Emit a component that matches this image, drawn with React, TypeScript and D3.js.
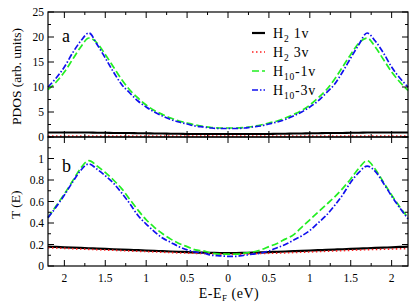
import React from "react";
import * as d3 from "d3";

// energies (eV relative to Fermi level)
const energies = [
  -2.2, -2.1, -2.0, -1.9, -1.8, -1.7, -1.6, -1.5, -1.4, -1.3, -1.2, -1.1, -1.0, -0.9, -0.8, -0.7, -0.6, -0.5, -0.4, -0.3, -0.2, -0.1,
  0, 0.1, 0.2, 0.3, 0.4, 0.5, 0.6, 0.7, 0.8, 0.9, 1.0, 1.1, 1.2, 1.3, 1.4, 1.5, 1.6, 1.7, 1.8, 1.9, 2.0, 2.1, 2.2,
];

// panel a: PDOS
const pdosH2_1v = [
  0.9, 0.9, 0.9, 0.9, 0.9, 0.9, 0.85, 0.85, 0.8, 0.8, 0.8, 0.75, 0.75, 0.7, 0.7, 0.65, 0.65, 0.6, 0.6, 0.6, 0.6, 0.6,
  0.6, 0.6, 0.6, 0.6, 0.6, 0.6, 0.65, 0.65, 0.7, 0.7, 0.75, 0.75, 0.8, 0.8, 0.8, 0.85, 0.85, 0.9, 0.9, 0.9, 0.9, 0.9, 0.9,
];
const pdosH2_3v = [
  0.2, 0.2, 0.2, 0.2, 0.2, 0.2, 0.2, 0.2, 0.2, 0.2, 0.2, 0.2, 0.2, 0.2, 0.2, 0.2, 0.2, 0.2, 0.2, 0.2, 0.2, 0.2,
  0.2, 0.2, 0.2, 0.2, 0.2, 0.2, 0.2, 0.2, 0.2, 0.2, 0.2, 0.2, 0.2, 0.2, 0.2, 0.2, 0.2, 0.2, 0.2, 0.2, 0.2, 0.2, 0.2,
];
const pdosH10_1v = [
  9.5, 11.0, 13.0, 15.5, 18.0, 19.8, 18.8, 16.5, 14.0, 11.5, 9.4, 7.8, 6.4, 5.3, 4.5, 3.8, 3.2, 2.8, 2.4, 2.1, 1.9, 1.8,
  1.8, 1.8, 1.9, 2.1, 2.4, 2.8, 3.2, 3.8, 4.5, 5.3, 6.4, 7.8, 9.4, 11.5, 14.0, 16.5, 18.8, 19.8, 18.0, 15.5, 13.0, 11.0, 9.3,
];
const pdosH10_3v = [
  10.0, 11.8, 14.0, 16.8, 19.2, 20.8, 18.5, 15.8, 13.0, 10.5, 8.8, 7.2, 6.0, 5.0, 4.2, 3.5, 3.0, 2.6, 2.2, 2.0, 1.8, 1.7,
  1.7, 1.7, 1.8, 2.0, 2.2, 2.6, 3.0, 3.5, 4.2, 5.0, 6.0, 7.2, 8.8, 10.5, 13.0, 15.8, 18.5, 20.8, 19.2, 16.8, 14.0, 11.8, 10.0,
];

// panel b: transmission
const transH2_1v = [
  0.18, 0.177, 0.174, 0.171, 0.168, 0.165, 0.162, 0.159, 0.156, 0.153, 0.15, 0.147, 0.144, 0.141, 0.138, 0.135, 0.132, 0.129, 0.126, 0.124, 0.122, 0.12,
  0.12, 0.12, 0.122, 0.124, 0.126, 0.129, 0.132, 0.135, 0.138, 0.141, 0.144, 0.147, 0.15, 0.153, 0.156, 0.159, 0.162, 0.165, 0.168, 0.171, 0.174, 0.177, 0.18,
];
const transH2_3v = [
  0.17, 0.167, 0.164, 0.161, 0.158, 0.155, 0.152, 0.149, 0.146, 0.143, 0.14, 0.137, 0.134, 0.131, 0.128, 0.125, 0.122, 0.12, 0.118, 0.116, 0.114, 0.112,
  0.11, 0.11, 0.112, 0.114, 0.116, 0.118, 0.12, 0.122, 0.125, 0.128, 0.131, 0.134, 0.137, 0.14, 0.143, 0.146, 0.149, 0.152, 0.154, 0.156, 0.158, 0.16, 0.162,
];
const transH10_1v = [
  0.45, 0.56, 0.67, 0.79, 0.91, 0.98, 0.93, 0.87, 0.8, 0.72, 0.62, 0.52, 0.43, 0.36, 0.3, 0.25, 0.21, 0.18, 0.15, 0.14, 0.12, 0.11,
  0.11, 0.11, 0.12, 0.13, 0.15, 0.18, 0.21, 0.25, 0.29, 0.36, 0.43, 0.5, 0.57, 0.64, 0.72, 0.81, 0.91, 0.98, 0.9, 0.78, 0.66, 0.55, 0.45,
];
const transH10_3v = [
  0.45, 0.55, 0.66, 0.78, 0.89, 0.95, 0.9, 0.84, 0.77, 0.68, 0.58, 0.47, 0.39, 0.32, 0.26, 0.22, 0.18, 0.15, 0.13, 0.12, 0.1, 0.095,
  0.09, 0.09, 0.1, 0.11, 0.12, 0.14, 0.17, 0.2, 0.24, 0.28, 0.33, 0.4, 0.47, 0.56, 0.66, 0.78, 0.87, 0.93, 0.88, 0.77, 0.65, 0.54, 0.44,
];

const legendLabels = [
  { base: "H", sub: "2", rest: " 1v" },
  { base: "H", sub: "2", rest: " 3v" },
  { base: "H", sub: "10", rest: "-1v" },
  { base: "H", sub: "10", rest: "-3v" },
];

const styles = [
  { color: "#000000", width: 2.2, dash: "" },
  { color: "#ff2020", width: 1.6, dash: "1.5,2.5" },
  { color: "#22ee22", width: 1.7, dash: "7,3" },
  { color: "#1010ee", width: 1.7, dash: "6,2,1.5,2" },
];

const W = 415;
const H = 305;
const left = 48;
const right = 408;
const topA = 12;
const botA = 137;
const botB = 266;
const font = "'Liberation Serif', 'DejaVu Serif', serif";

const x = d3.scaleLinear().domain([-2.2, 2.2]).range([left, right]);
const yA = d3.scaleLinear().domain([0, 25]).range([botA, topA]);
const yB = d3.scaleLinear().domain([0, 1.2]).range([botB, botA]);

function Ticks({ y, top, bottom, major, minor, fmt }: any) {
  const xMaj = d3.range(-2, 2.01, 0.5);
  const xMin = d3.range(-2.25, 2.26, 0.25).filter((v) => v > -2.2 && v < 2.2);
  return (
    <g stroke="#000" strokeWidth={1}>
      {xMin.map((v: number) => {
        const len = xMaj.some((m) => Math.abs(m - v) < 1e-6) ? 6 : 3;
        return (
          <g key={"x" + v}>
            <line x1={x(v)} x2={x(v)} y1={top} y2={top + len} />
            <line x1={x(v)} x2={x(v)} y1={bottom} y2={bottom - len} />
          </g>
        );
      })}
      {minor.map((v: number) => {
        const isMaj = major.some((m: number) => Math.abs(m - v) < 1e-6);
        const len = isMaj ? 6 : 3;
        return (
          <g key={"y" + v}>
            <line x1={left} x2={left + len} y1={y(v)} y2={y(v)} />
            <line x1={right} x2={right - len} y1={y(v)} y2={y(v)} />
          </g>
        );
      })}
      {major.map((v: number) => (
        <text
          key={"l" + v}
          x={left - 4}
          y={y(v) + 4}
          textAnchor="end"
          stroke="none"
          fill="#000"
          fontSize={11.5}
          fontFamily={font}
        >
          {fmt(v)}
        </text>
      ))}
      <rect x={left} y={top} width={right - left} height={bottom - top} fill="none" strokeWidth={1.2} />
    </g>
  );
}

function Panel({ y, series }: any) {
  const line = d3
    .line<number>()
    .x((_, i) => x(energies[i]))
    .y((d) => y(d))
    .curve(d3.curveMonotoneX);
  return (
    <g>
      {series.map((s: number[], i: number) => (
        <path
          key={i}
          d={line(s) || ""}
          fill="none"
          stroke={styles[i].color}
          strokeWidth={styles[i].width}
          strokeDasharray={styles[i].dash}
        />
      ))}
    </g>
  );
}

export default function App() {
  const majA = d3.range(0, 25.01, 5);
  const minA = d3.range(0, 25.01, 2.5);
  const majB = d3.range(0, 1.01, 0.2).map((v) => +v.toFixed(1));
  const minB = d3.range(0, 1.21, 0.1).map((v) => +v.toFixed(1));
  const xLabels = d3.range(-2, 2.01, 0.5).map((v) => +v.toFixed(1));
  return (
    <svg width={W} height={H} style={{ position: "absolute", left: 0, top: 0, background: "#fff" }}>
      <Panel y={yA} series={[pdosH2_1v, pdosH2_3v, pdosH10_1v, pdosH10_3v]} />
      <Panel y={yB} series={[transH2_1v, transH2_3v, transH10_1v, transH10_3v]} />
      <Ticks y={yA} top={topA} bottom={botA} major={majA} minor={minA} fmt={(v: number) => String(v)} />
      <Ticks y={yB} top={botA} bottom={botB} major={majB} minor={minB} fmt={(v: number) => String(v)} />
      {xLabels.map((v) => (
        <text key={v} x={x(v)} y={282} textAnchor="middle" fontSize={11.5} fontFamily={font}>
          {String(Math.abs(v))}
        </text>
      ))}
      <text x={229} y={298} textAnchor="middle" fontSize={14} fontFamily={font} letterSpacing={0.5}>
        E-E<tspan fontSize={9} dy={3}>F</tspan>
        <tspan dy={-3}> (eV)</tspan>
      </text>
      <text transform={`translate(21,${(topA + botA) / 2 + 2}) rotate(-90)`} textAnchor="middle" fontSize={13.5} fontFamily={font}>
        PDOS (arb. units)
      </text>
      <text transform={`translate(20,${yB(0.57)}) rotate(-90)`} textAnchor="middle" fontSize={13.5} fontFamily={font}>
        T (E)
      </text>
      <text x={62} y={42} fontSize={18} fontFamily={font}>a</text>
      <text x={62} y={172} fontSize={18} fontFamily={font}>b</text>
      {legendLabels.map((l, i) => (
        <g key={i} transform={`translate(252,${33 + i * 19})`}>
          <line x1={0} x2={13} y1={0} y2={0} stroke={styles[i].color} strokeWidth={styles[i].width} strokeDasharray={styles[i].dash} />
          <text x={21} y={5} fontSize={14} fontFamily={font} letterSpacing={0.8}>
            {l.base}
            <tspan fontSize={9.5} dy={4}>{l.sub}</tspan>
            <tspan dy={-4}>{l.rest}</tspan>
          </text>
        </g>
      ))}
    </svg>
  );
}
